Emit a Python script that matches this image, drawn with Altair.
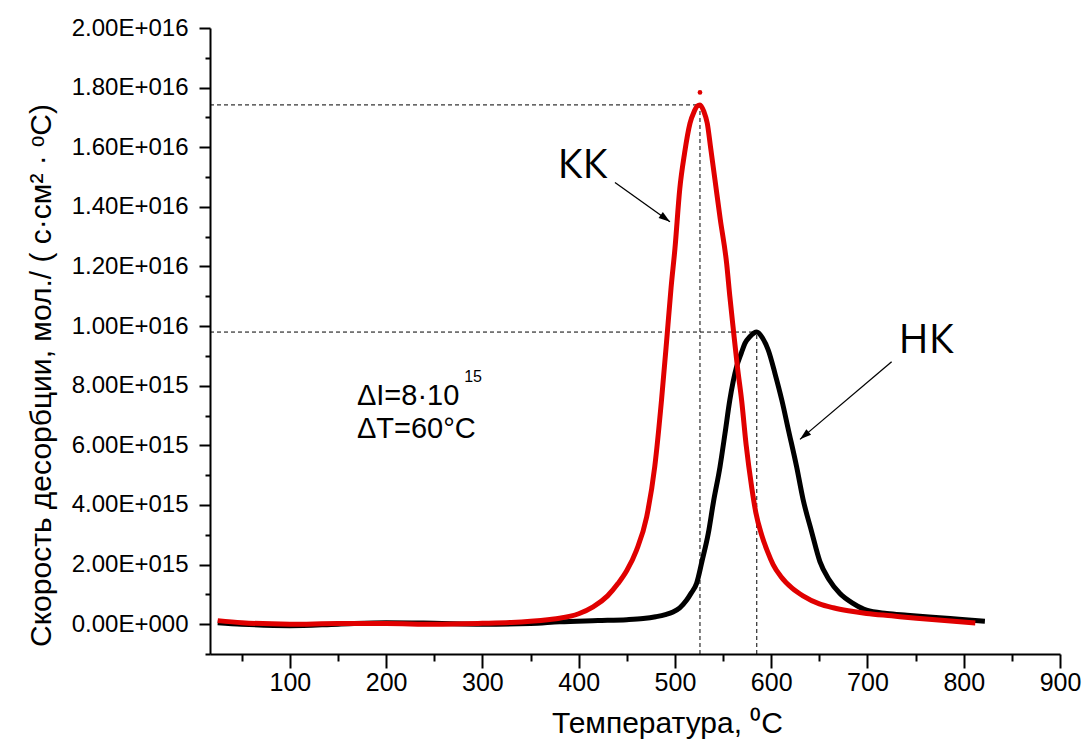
import altair as alt
import pandas as pd

# ---------------- data (values of the rate in units of 1e15) ----------------
UNIT = 1e15

KK_T = [25, 50, 100, 150, 200, 250, 300, 330, 350, 370, 380, 400, 415, 430, 441,
        450, 460, 470.6, 479, 486, 492, 496, 500, 505, 510, 515.6, 520, 523, 526,
        530, 533.6, 537, 541.6, 547, 553.7, 557, 560.6, 565, 569.3, 574, 579.7,
        584, 590, 596, 602, 610, 622, 633, 650, 664.5, 680, 699, 725, 751, 780, 812]
KK_V = [0.12, 0.05, 0.0, 0.02, 0.02, 0.0, 0.03, 0.06, 0.1, 0.16, 0.2, 0.35, 0.58,
        0.95, 1.37, 1.8, 2.48, 3.6, 5.28, 7.5, 9.75, 11.3, 12.6, 14.6, 15.8, 16.8,
        17.2, 17.38, 17.42, 17.2, 16.8, 16.0, 14.9, 13.6, 12.1, 11.0, 9.9, 8.6,
        7.5, 6.0, 4.6, 3.75, 3.0, 2.45, 2.0, 1.6, 1.2, 0.95, 0.68, 0.55, 0.45,
        0.36, 0.28, 0.2, 0.12, 0.04]

NK_T = [25, 50, 100, 150, 200, 250, 300, 350, 380, 420, 450, 467, 480, 490, 498,
        505, 512, 517, 522.5, 528, 534.6, 540, 546.8, 552, 557, 564, 569, 572.7,
        578, 585, 591, 597, 604, 611, 618, 626.4, 633, 642, 650.6, 660, 671.4,
        685, 699, 720, 741, 764, 786, 805, 822]
NK_V = [0.05, 0.0, -0.05, 0.0, 0.05, 0.03, 0.0, 0.02, 0.08, 0.12, 0.15, 0.19,
        0.25, 0.32, 0.41, 0.55, 0.8, 1.05, 1.37, 2.1, 3.04, 4.1, 5.28, 6.4, 7.52,
        8.63, 9.1, 9.42, 9.65, 9.8, 9.6, 9.19, 8.4, 7.52, 6.5, 5.28, 4.2, 3.1,
        2.1, 1.5, 1.03, 0.7, 0.47, 0.36, 0.3, 0.24, 0.19, 0.14, 0.1]

SERIES = ["НК", "КК"]
COLORS = ["#000000", "#e00000"]

OUTLIER_T = [526]
OUTLIER_V = [17.84]

PEAK_T = [526, 585]
PEAK_V = [17.42, 9.8]

X_DOMAIN = [17, 900]
Y_DOMAIN = [-1 * UNIT, 20 * UNIT]
X_TICKS = list(range(50, 901, 50))
Y_MAJOR = [k * UNIT for k in range(0, 21, 2)]
Y_MINOR = [k * UNIT for k in range(-1, 20, 2)]
Y_LABELS = ["0.00E+000", "2.00E+015", "4.00E+015", "6.00E+015", "8.00E+015",
            "1.00E+016", "1.20E+016", "1.40E+016", "1.60E+016", "1.80E+016",
            "2.00E+016"]

LABEL_TEXT = ["КК", "НК"]
LABEL_T = [404, 761]
LABEL_V = [14.97, 9.09]

ARROW_T = [437.7, 725.1]
ARROW_V = [14.82, 8.8]
ARROW_T2 = [494.8, 629.9]
ARROW_V2 = [13.5, 6.2]
ARROW_ANGLE = [36, 140]

NOTE_TEXT = ["ΔI=8·10", "ΔT=60°C"]
NOTE_T = [169.6, 169.6]
NOTE_V = [7.35, 6.24]
SUP_TEXT = ["15"]
SUP_T = [281.0]
SUP_V = [8.12]

X_TITLE = "Температура, ⁰C"
Y_TITLE = "Скорость десорбции, мол./ ( с·см² · ᵒС)"

FONT = "Liberation Sans"

# ---------------- tables ----------------
rows = []
for name, ts, vs in [("НК", NK_T, NK_V), ("КК", KK_T, KK_V)]:
    for t, v in zip(ts, vs):
        rows.append({"T": t, "v": v * UNIT, "s": name})
curves = pd.DataFrame(rows)

peaks = pd.DataFrame({"T": PEAK_T, "v": [p * UNIT for p in PEAK_V],
                      "x0": [X_DOMAIN[0]] * len(PEAK_T),
                      "y0": [Y_DOMAIN[0]] * len(PEAK_T)})
outlier = pd.DataFrame({"T": OUTLIER_T, "v": [p * UNIT for p in OUTLIER_V]})
labels = pd.DataFrame({"T": LABEL_T, "v": [p * UNIT for p in LABEL_V], "txt": LABEL_TEXT})
arrows = pd.DataFrame({"T": ARROW_T, "v": [p * UNIT for p in ARROW_V],
                       "T2": ARROW_T2, "v2": [p * UNIT for p in ARROW_V2],
                       "ang": ARROW_ANGLE})
notes = pd.DataFrame({"T": NOTE_T, "v": [p * UNIT for p in NOTE_V], "txt": NOTE_TEXT})
sups = pd.DataFrame({"T": SUP_T, "v": [p * UNIT for p in SUP_V], "txt": SUP_TEXT})

y_label_map = ", ".join(f"'{int(v)}': '{s}'" for v, s in zip(Y_MAJOR, Y_LABELS))
y_label_expr = "{" + y_label_map + "}[toString(datum.value)] || ''"

xs = alt.Scale(domain=X_DOMAIN, nice=False, zero=False)
ys = alt.Scale(domain=Y_DOMAIN, nice=False, zero=False)

x_axis = alt.Axis(
    values=X_TICKS,
    labelExpr="datum.value % 100 == 0 ? datum.value : ''",
    tickSize={"condition": {"test": "datum.value % 100 != 0", "value": 7}, "value": 14},
    labelPadding=2, labelFlush=False, labelOverlap=False,
    labelFontSize=25, labelFont=FONT, labelColor="black",
    domainColor="black", domainWidth=2, tickColor="black", tickWidth=2,
    grid=False, title=X_TITLE, titleFont=FONT, titleFontSize=30,
    titleFontWeight="normal", titleColor="black",
    titleX=457, titleY=78, titleBaseline="alphabetic", titleAlign="center",
)
y_axis_major = alt.Axis(
    orient="left", values=Y_MAJOR,
    labelExpr=y_label_expr,
    tickSize=11, labelPadding=11, labelOverlap=False, labelFlush=False,
    labelFontSize=24, labelFont=FONT, labelColor="black",
    domainColor="black", domainWidth=2, tickColor="black", tickWidth=2,
    grid=False, title=Y_TITLE, titleFont=FONT, titleFontSize=30,
    titleFontWeight="normal", titleColor="black",
    titleX=-160, titleY=347, titleBaseline="alphabetic", titleAlign="center",
    titleAngle=270,
)
y_axis_minor = alt.Axis(
    orient="left", values=Y_MINOR, labels=False, domain=False, title=None,
    tickSize=5, tickColor="black", tickWidth=2, grid=False,
)

lines = alt.Chart(curves).mark_line(strokeWidth=5, interpolate="monotone").encode(
    x=alt.X("T:Q", scale=xs, axis=x_axis),
    y=alt.Y("v:Q", scale=ys, axis=y_axis_major),
    color=alt.Color("s:N", scale=alt.Scale(domain=SERIES, range=COLORS), legend=None),
    detail="s:N",
    order=alt.Order("T:Q"),
)

dot = alt.Chart(outlier).mark_point(filled=True, size=22, color="#e00000", opacity=1).encode(
    x=alt.X("T:Q", scale=xs), y=alt.Y("v:Q", scale=ys, axis=y_axis_minor))

hdash = alt.Chart(peaks).mark_rule(strokeDash=[4, 3], strokeWidth=1, color="black").encode(
    x=alt.X("x0:Q", scale=xs), x2="T:Q", y=alt.Y("v:Q", scale=ys, axis=None))
vdash = alt.Chart(peaks).mark_rule(strokeDash=[4, 3], strokeWidth=1, color="black").encode(
    x=alt.X("T:Q", scale=xs), y=alt.Y("y0:Q", scale=ys, axis=None), y2="v:Q")

arrow_lines = alt.Chart(arrows).mark_rule(strokeWidth=1.3, color="black").encode(
    x=alt.X("T:Q", scale=xs), y=alt.Y("v:Q", scale=ys, axis=None), x2="T2:Q", y2="v2:Q")
arrow_heads = alt.Chart(arrows).mark_point(
    shape="M0,0L-1,-0.32L-1,0.32Z", filled=True, size=520, color="black", opacity=1
).encode(x=alt.X("T2:Q", scale=xs), y=alt.Y("v2:Q", scale=ys, axis=None),
         angle=alt.Angle("ang:Q", scale=None))

big_labels = alt.Chart(labels).mark_text(font="Open Sans", fontSize=41, align="center",
                                         baseline="alphabetic", color="black").encode(
    x=alt.X("T:Q", scale=xs), y=alt.Y("v:Q", scale=ys, axis=None), text="txt:N")

note_text = alt.Chart(notes).mark_text(font=FONT, fontSize=29, align="left",
                                       baseline="alphabetic", color="black").encode(
    x=alt.X("T:Q", scale=xs), y=alt.Y("v:Q", scale=ys, axis=None), text="txt:N")
sup_text = alt.Chart(sups).mark_text(font=FONT, fontSize=16, align="left",
                                     baseline="alphabetic", color="black").encode(
    x=alt.X("T:Q", scale=xs), y=alt.Y("v:Q", scale=ys, axis=None), text="txt:N")

chart = alt.layer(
    hdash, vdash, lines, dot, arrow_lines, arrow_heads, big_labels, note_text, sup_text
).resolve_axis(y="independent").properties(
    width=850, height=626,
    padding={"left": 210, "top": 28, "right": 26, "bottom": 95},
    autosize=alt.AutoSizeParams(type="none"),
    background="white",
).configure_view(stroke=None)

chart.save("out.html", embed_options={"renderer": "svg", "actions": False})
